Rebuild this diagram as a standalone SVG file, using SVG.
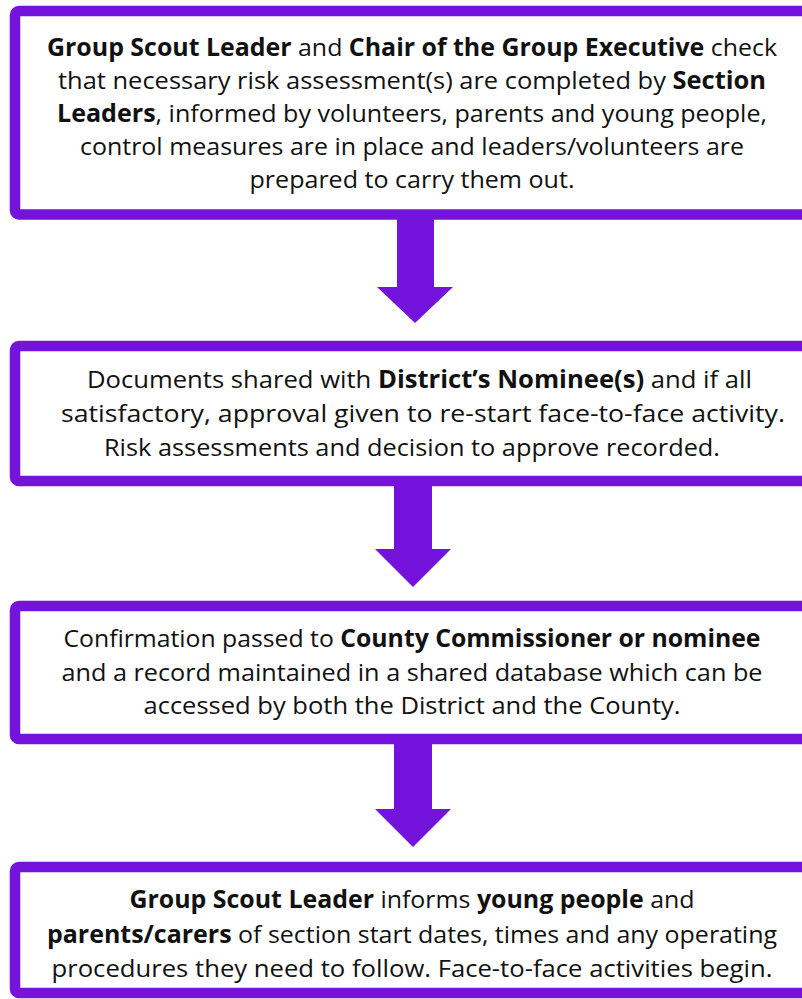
<svg xmlns="http://www.w3.org/2000/svg" width="802" height="999" viewBox="0 0 802 999">
<style>
.box{fill:#fff;stroke:#7413DC;stroke-width:10.5}
.arr{fill:#7413DC}
text{font-family:"Open Sans","Noto Sans",sans-serif;font-size:24.5px;fill:#111;text-anchor:middle}
.s{text-anchor:start}
.b{font-weight:bold}
</style>
<rect width="802" height="999" fill="#fff"/>
<g id="connectors">
<polygon class="arr" points="397,218 434,218 434,287 453,287 415,323 377,287 397,287"/>
<polygon class="arr" points="394,484 432,484 432,549 451,549 413,587 375,549 394,549"/>
<polygon class="arr" points="394,742 432,742 432,809 451,809 413,847 375,809 394,809"/>
</g>
<g id="node1">
<rect class="box" x="15" y="11" width="820" height="203.5" rx="4"/>
<text x="412" y="56" textLength="730" lengthAdjust="spacingAndGlyphs"><tspan class="b">Group Scout Leader</tspan> and <tspan class="b">Chair of the Group Executive</tspan> check</text>
<text x="412" y="89" textLength="708" lengthAdjust="spacingAndGlyphs">that necessary risk assessment(s) are completed by <tspan class="b">Section</tspan></text>
<text x="412" y="122" textLength="710" lengthAdjust="spacingAndGlyphs"><tspan class="b">Leaders</tspan>, informed by volunteers, parents and young people,</text>
<text x="412" y="155" textLength="664" lengthAdjust="spacingAndGlyphs">control measures are in place and leaders/volunteers are</text>
<text x="412" y="188" textLength="325" lengthAdjust="spacingAndGlyphs">prepared to carry them out.</text>
</g>
<g id="node2">
<rect class="box" x="15" y="346" width="820" height="135" rx="4"/>
<text class="s" x="87" y="388" textLength="665" lengthAdjust="spacingAndGlyphs">Documents shared with <tspan class="b">District’s Nominee(s)</tspan> and if all</text>
<text class="s" x="61" y="422" textLength="724" lengthAdjust="spacingAndGlyphs">satisfactory, approval given to re-start face-to-face activity.</text>
<text class="s" x="104" y="456" textLength="616" lengthAdjust="spacingAndGlyphs">Risk assessments and decision to approve recorded.</text>
</g>
<g id="node3">
<rect class="box" x="15" y="606" width="820" height="133" rx="4"/>
<text x="412" y="647" textLength="697" lengthAdjust="spacingAndGlyphs">Confirmation passed to <tspan class="b">County Commissioner or nominee</tspan></text>
<text x="412" y="681" textLength="701" lengthAdjust="spacingAndGlyphs">and a record maintained in a shared database which can be</text>
<text x="412" y="714" textLength="537" lengthAdjust="spacingAndGlyphs">accessed by both the District and the County.</text>
</g>
<g id="node4">
<rect class="box" x="15" y="867" width="820" height="126" rx="4"/>
<text x="412" y="908" textLength="565" lengthAdjust="spacingAndGlyphs"><tspan class="b">Group Scout Leader</tspan> informs <tspan class="b">young people</tspan> and</text>
<text x="412" y="943" textLength="730" lengthAdjust="spacingAndGlyphs"><tspan class="b">parents/carers</tspan> of section start dates, times and any operating</text>
<text x="412" y="977" textLength="721" lengthAdjust="spacingAndGlyphs">procedures they need to follow. Face-to-face activities begin.</text>
</g>
</svg>
